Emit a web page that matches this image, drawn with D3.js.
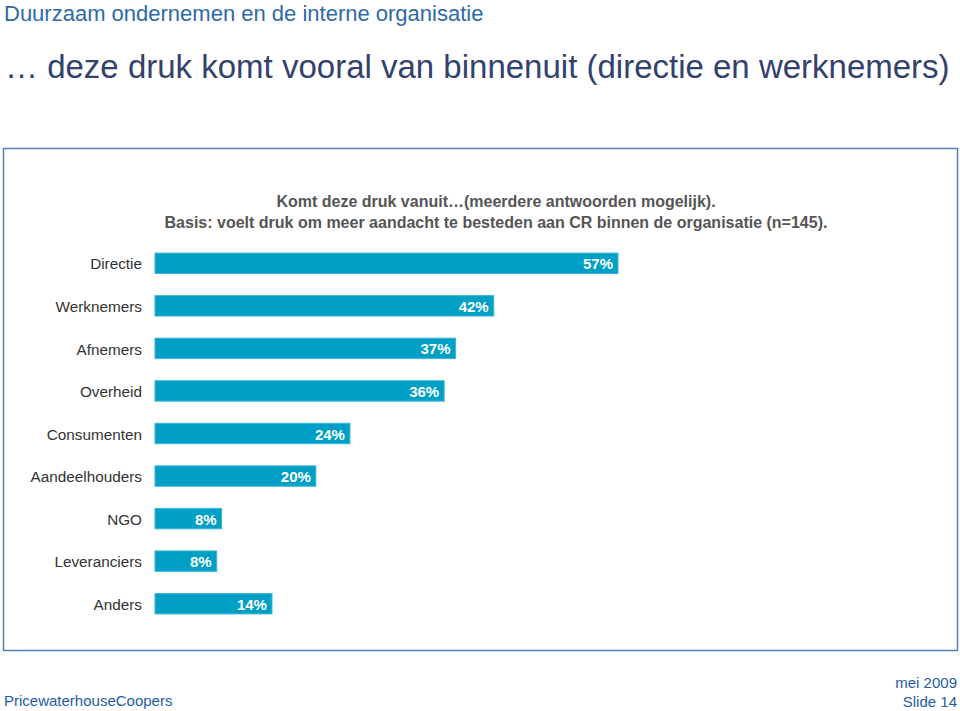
<!DOCTYPE html>
<html><head><meta charset="utf-8">
<script src="https://cdn.jsdelivr.net/npm/d3@7"></script>
<style>body{margin:0;background:#fff}svg{display:block}text{font-family:"Liberation Sans",Arial,sans-serif}</style>
</head><body><svg id="c" width="960" height="711"></svg>
<script>
const categories = ["Directie","Werknemers","Afnemers","Overheid","Consumenten","Aandeelhouders","NGO","Leveranciers","Anders"];
const values = [0.57,0.417,0.37,0.356,0.24,0.198,0.082,0.076,0.144];

const svg = d3.select("#c");
svg.append("text").attr("x",4).attr("y",21).attr("font-size",22).attr("fill","#2e6aa8").text("Duurzaam ondernemen en de interne organisatie");
svg.append("text").attr("x",5).attr("y",78).attr("font-size",33).attr("fill","#33416e").text("… deze druk komt vooral van binnenuit (directie en werknemers)");

svg.append("rect").attr("x",3.5).attr("y",148.5).attr("width",954).attr("height",502).attr("fill","none").attr("stroke","#5b80b8").attr("stroke-width",1.5);

svg.append("text").attr("x",496).attr("y",207).attr("text-anchor","middle").attr("font-size",16).attr("font-weight","bold").attr("fill","#555").text("Komt deze druk vanuit…(meerdere antwoorden mogelijk).");
svg.append("text").attr("x",496).attr("y",228).attr("text-anchor","middle").attr("font-size",16).attr("font-weight","bold").attr("fill","#555").text("Basis: voelt druk om meer aandacht te besteden aan CR binnen de organisatie (n=145).");

const x = d3.scaleLinear().domain([0,0.57]).range([155,618]);
const y = d3.scaleBand().domain(categories).range([242,625]).paddingInner(0.52).paddingOuter(0.26);
const fmt = d3.format(".0%");

const g = svg.append("g");
g.selectAll("rect.bar").data(categories).join("rect").attr("class","bar")
  .attr("x",x(0)).attr("y",d=>y(d)).attr("height",y.bandwidth())
  .attr("width",(d,i)=>x(values[i])-x(0)).attr("fill","#009fc6").attr("stroke","#3bb7d8").attr("stroke-width",1);
g.selectAll("text.val").data(categories).join("text").attr("class","val")
  .attr("x",(d,i)=>x(values[i])-5).attr("y",d=>y(d)+y.bandwidth()/2+6)
  .attr("text-anchor","end").attr("font-size",15).attr("font-weight","bold").attr("fill","#fff")
  .text((d,i)=>fmt(values[i]));
const ax = d3.axisLeft(y).tickSize(0).tickPadding(13);
const axg = svg.append("g").attr("transform",`translate(${x(0)},0)`).call(ax);
axg.select(".domain").remove();
axg.selectAll("text").attr("font-size",15.3).attr("fill","#333").attr("font-family","Liberation Sans, Arial, sans-serif").attr("dy","0.4em");

svg.append("text").attr("x",4).attr("y",706).attr("font-size",15).attr("fill","#1f5ca8").text("PricewaterhouseCoopers");
svg.append("text").attr("x",957).attr("y",688).attr("text-anchor","end").attr("font-size",15).attr("fill","#1f5ca8").text("mei 2009");
svg.append("text").attr("x",957).attr("y",707).attr("text-anchor","end").attr("font-size",15).attr("fill","#1f5ca8").text("Slide 14");
</script></body></html>
